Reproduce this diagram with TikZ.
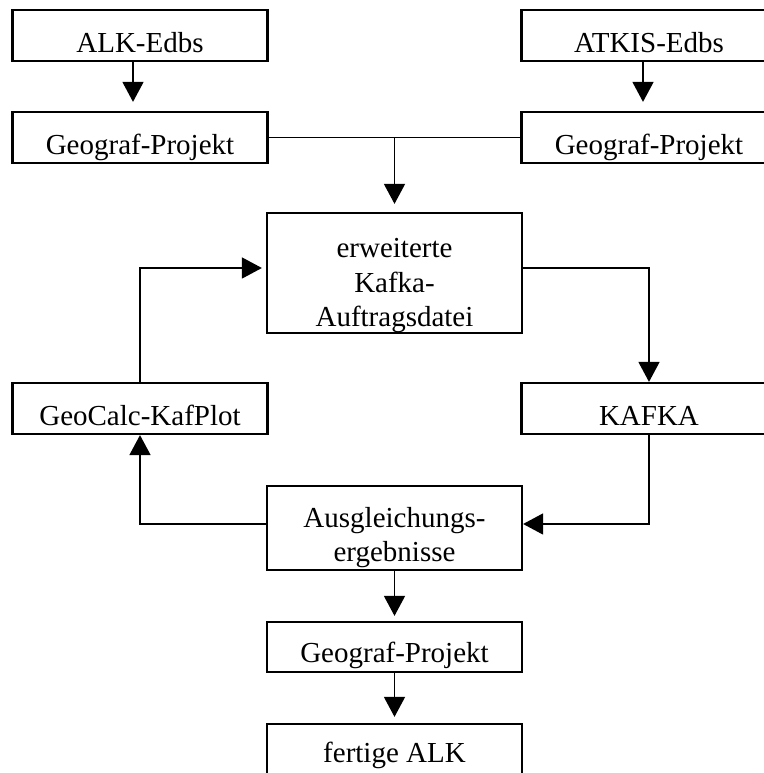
\documentclass[tikz,border=0pt]{standalone}
\usepackage{fontspec}
\setmainfont{Liberation Serif}
\usetikzlibrary{arrows.meta, positioning, calc}

\begin{document}
\begin{tikzpicture}[x=1pt, y=1pt, >={Triangle[length=20pt, width=21pt]}, line width=1.5pt,
    box/.style={draw, line width=2.2pt, minimum width=255pt, minimum height=51pt,
      inner sep=0pt, text height=43pt, text depth=8pt,
      font=\fontsize{29}{34.5}\selectfont}]
          \useasboundingbox (0,0) rectangle (763,773);
          \node[box] (ALK) at (140,737.5) {ALK-Edbs};
          \node[box] (ATKIS) at (649,737.5) {ATKIS-Edbs};
          \node[box] (GL) at (140,635.5) {Geograf-Projekt};
          \node[box] (GR) at (649,635.5) {Geograf-Projekt};
          \node[box, align=center, text height=114pt, text depth=6pt] (EK) at (394.5,500)
            {erweiterte\\Kafka-\\Auftragsdatei};
          \node[box] (GC) at (140,364.5) {GeoCalc-KafPlot};
          \node[box] (KF) at (649,364.5) {KAFKA};
          \node[box, align=center, text height=76pt, text depth=8pt] (AE) at (394.5,245)
            {Ausgleichungs-\\ergebnisse};
          \node[box, minimum height=50pt, text height=41pt, text depth=9pt] (GB) at (394.5,126)
            {Geograf-Projekt};
          \node[box, text height=39pt, text depth=12pt] (FA) at (394.5,23.5) {fertige ALK};
          \coordinate (J) at (GL.east -| EK.north);
          \draw[->, shorten >=9pt] ([xshift=-7pt]ALK.south) -- ([xshift=-7pt]GL.north);
          \draw[->, shorten >=9pt] ([xshift=-6pt]ATKIS.south) -- ([xshift=-6pt]GR.north);
          \draw (GL.east) -- (GR.west);
          \draw[->, shorten >=8pt] (J) -- (EK.north);
          \draw[->] ([yshift=5pt]EK.east) -| (KF.north);
          \draw[->, shorten >=4pt] (GC.north) |- ([yshift=5pt]EK.west);
          \draw[->] (KF.south) |- ([yshift=4pt]AE.east);
          \draw[->] ([yshift=4pt]AE.west) -| (GC.south);
          \draw[->, shorten >=5pt] (AE.south) -- (GB.north);
          \draw[->, shorten >=6pt] (GB.south) -- (FA.north);
      \end{tikzpicture}
\end{document}
